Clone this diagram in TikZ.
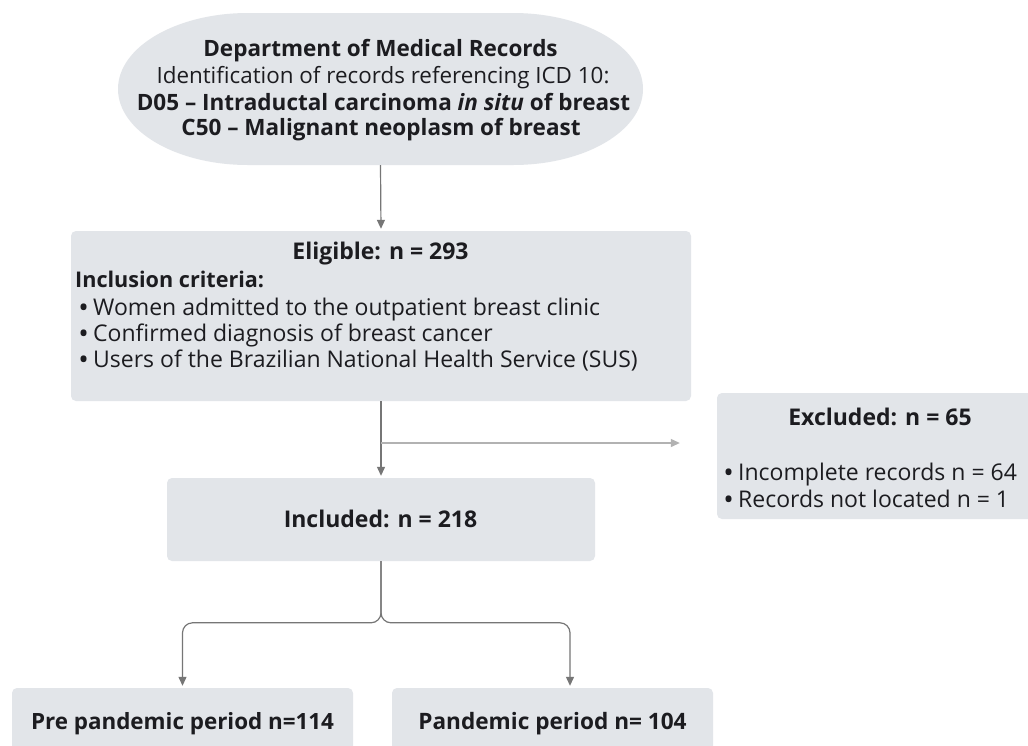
\documentclass[tikz,border=0pt]{standalone}
\usepackage{fontspec}
\setmainfont{Open Sans}
\usetikzlibrary{arrows.meta,calc}
\definecolor{boxfill}{RGB}{226,229,233}
\definecolor{txt}{RGB}{28,28,32}
\definecolor{arr}{RGB}{118,118,118}
\definecolor{arrlight}{RGB}{178,178,178}
\begin{document}
\begin{tikzpicture}[x=1pt,y=-1pt,
  box/.style={fill=boxfill, rounded corners=5pt, inner sep=0pt},
  lbl/.style={inner sep=0pt, text=txt},
  ttl/.style={lbl, font=\bfseries\fontsize{22.5}{24}\selectfont},
  body/.style={lbl, font=\fontsize{22.4}{24}\selectfont},
  item/.style={lbl, anchor=base west, font=\fontsize{23}{24}\selectfont},
  conn/.style={draw=arr, line width=1.2pt, -{Triangle[width=8pt,length=9pt]}},
  connlight/.style={draw=arrlight, line width=1.2pt, -{Triangle[width=8pt,length=9pt]}}]
\useasboundingbox (0,0) rectangle (1028,745);
\fill[white] (0,0) rectangle (1028,745);
\newcommand{\bul}{\makebox[19pt][c]{\raisebox{-2.8pt}[0pt][0pt]{\fontsize{28}{28}\selectfont •}}}
% top rounded ellipse
\fill[boxfill] (248,13) -- (513,13) arc[start angle=-90,end angle=90,x radius=130,y radius=76]
  -- (248,165) arc[start angle=90,end angle=270,x radius=130,y radius=76] -- cycle;
\node[minimum width=525pt, minimum height=152pt, inner sep=0pt] (top) at (380.5,89) {};
\node[ttl, anchor=base] (t1) at (380.5,56) {Department of Medical Records};
\node[body, anchor=base] (t2) at (383,83) {Identification of records referencing ICD 10:};
\node[ttl, anchor=base] (t3) at (383.5,110) {D05 – Intraductal carcinoma \textit{in situ} of breast};
\node[ttl, anchor=base] (t4) at (381,135) {C50 – Malignant neoplasm of breast};
% eligible
\node[box, minimum width=620pt, minimum height=170pt] (elig) at (381,316) {};
\node[ttl, anchor=base, font=\bfseries\fontsize{23}{24}\selectfont] (e1) at (380.5,259) {Eligible: n = 293};
\node[ttl, anchor=base west, font=\bfseries\fontsize{21.6}{24}\selectfont] (e2) at (75,287.5) {Inclusion criteria:};
\node[item] (e3) at (74,315) {\bul Women admitted to the outpatient breast clinic};
\node[item] (e4) at (74,341) {\bul Confirmed diagnosis of breast cancer};
\node[item] (e5) at (74,367) {\bul Users of the Brazilian National Health Service (SUS)};
% excluded
\node[box, minimum width=326pt, minimum height=126pt] (exc) at (880,456) {};
\node[ttl, anchor=base, font=\bfseries\fontsize{23}{24}\selectfont] (x1) at (880,425.5) {Excluded: n = 65};
\node[item] (x2) at (719,480) {\bul Incomplete records n = 64};
\node[item] (x3) at (719,507) {\bul Records not located n = 1};
% included
\node[box, minimum width=428pt, minimum height=83pt] (inc) at (381,519.5) {};
\node[ttl, anchor=base, font=\bfseries\fontsize{23}{24}\selectfont] (i1) at (380.5,527) {Included: n = 218};
% bottom boxes
\node[box, minimum width=341pt, minimum height=66pt] (pre) at (182.5,721) {};
\node[ttl, anchor=base, font=\bfseries\fontsize{22.4}{24}\selectfont] (p1) at (182.5,729) {Pre pandemic period n=114};
\node[box, minimum width=321pt, minimum height=66pt] (pan) at (552.5,721) {};
\node[ttl, anchor=base, font=\bfseries\fontsize{22.6}{24}\selectfont] (p2) at (552.5,729) {Pandemic period n= 104};
% connectors
\draw[conn, shorten >=2pt] (top.south) -- (elig.north);
\draw[conn, shorten >=2pt] (elig.south) -- (inc.north);
\coordinate (br) at (381,443);
\draw[connlight, shorten >=37pt] (br) -- (br -| exc.west);
\draw[conn, rounded corners=10pt, shorten >=2pt] (inc.south) |- ($(pre.north)+(0,-65)$) -- (pre.north);
\coordinate (pant) at ($(pan.north)+(17.5,0)$);
\draw[conn, rounded corners=10pt, shorten >=2pt] (inc.south) |- ($(pant)+(0,-65)$) -- (pant);
\end{tikzpicture}
\end{document}
